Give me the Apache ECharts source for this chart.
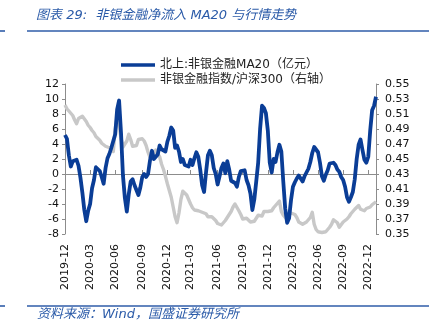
<!DOCTYPE html>
<html>
<head>
<meta charset="utf-8">
<script src="https://cdn.jsdelivr.net/npm/echarts@6/dist/echarts.min.js"></script>
<style>
html,body{margin:0;padding:0;background:#fff;}
#c{width:437px;height:334px;}
</style>
</head>
<body>
<div id="c"></div>
<script>
// ---- data ----
const startDate = '2019-12-02';   // weekly observations
const weekCount = 162;
const tickLabels = ['2019-12','2020-03','2020-06','2020-09','2020-12','2021-03','2021-06','2021-09','2021-12','2022-03','2022-06','2022-09','2022-12'];
const rightTicks = [0.35,0.37,0.39,0.41,0.43,0.45,0.47,0.49,0.51,0.53,0.55];
const seriesNames = ['北上:非银金融MA20（亿元）','非银金融指数/沪深300（右轴）'];

const northboundMA20 = [
5.2,4.7,2.5,1.0,1.7,1.5,1.9,1.1,-0.5,-2.5,
-4.8,-6.3,-4.9,-4.0,-1.9,-0.8,0.9,1.1,0.4,-0.4,
-1.3,0.8,2.1,2.7,3.5,3.3,5.3,8.6,9.8,5.5,
-0.2,-3.2,-5.0,-2.7,-1.0,-0.7,-1.5,-1.6,-2.8,-1.8,
-0.4,0.0,-0.4,0.0,1.8,3.1,2.0,2.0,2.6,3.8,
3.3,3.3,3.0,4.3,5.1,6.2,5.8,3.5,3.8,3.0,
1.6,2.0,1.2,1.2,1.0,1.9,1.2,2.1,2.9,2.3,
0.6,-1.5,-2.4,0.2,2.5,3.1,2.5,0.8,0.0,-1.4,
-0.3,0.8,1.4,0.1,1.7,0.6,-0.9,-0.8,-1.2,-1.7,
-0.4,0.4,0.6,0.5,-0.8,-1.5,-2.6,-4.8,-3.4,-1.0,
1.5,6.0,9.1,8.8,8.1,5.8,1.5,0.2,2.0,1.6,
2.9,3.9,3.0,-1.0,-4.6,-6.5,-5.9,-3.5,-1.7,-1.1,
-0.6,-0.2,-0.6,-1.0,-0.3,0.2,0.7,1.6,2.8,3.6,
3.6,2.9,1.5,-0.3,-0.9,-0.1,0.5,1.4,1.5,1.5,
1.2,0.6,0.3,-0.4,-0.8,-1.7,-3.1,-3.7,-3.1,-2.4,
-0.7,2.0,3.9,4.6,3.2,1.9,1.5,2.3,5.8,8.5,
9.1,10.3
];

const relativeIndex = [
0.522,0.517,0.514,0.512,0.508,0.502,0.497,0.504,0.505,0.507,
0.505,0.500,0.495,0.492,0.488,0.485,0.480,0.478,0.475,0.471,
0.470,0.467,0.467,0.465,0.465,0.460,0.490,0.507,0.495,0.478,
0.466,0.470,0.474,0.483,0.476,0.467,0.465,0.468,0.476,0.474,
0.477,0.474,0.468,0.459,0.452,0.451,0.456,0.462,0.464,0.453,
0.443,0.436,0.427,0.417,0.408,0.399,0.386,0.373,0.365,0.378,
0.396,0.407,0.408,0.402,0.396,0.390,0.385,0.382,0.381,0.381,
0.379,0.379,0.377,0.377,0.373,0.375,0.373,0.371,0.368,0.364,
0.362,0.362,0.364,0.368,0.372,0.376,0.380,0.386,0.390,0.388,
0.381,0.376,0.370,0.369,0.371,0.370,0.366,0.364,0.367,0.371,
0.375,0.375,0.374,0.380,0.381,0.380,0.382,0.381,0.385,0.386,
0.391,0.394,0.380,0.375,0.373,0.369,0.375,0.378,0.378,0.376,
0.372,0.366,0.366,0.363,0.365,0.366,0.366,0.372,0.379,0.363,
0.356,0.353,0.351,0.352,0.352,0.353,0.356,0.359,0.363,0.369,
0.370,0.365,0.359,0.361,0.366,0.368,0.370,0.373,0.377,0.379,
0.383,0.384,0.388,0.383,0.382,0.381,0.384,0.384,0.386,0.389,
0.391,0.393
];

// weekly date categories
const dates = [];
{
  const t0 = Date.parse(startDate + 'T00:00:00Z');
  for (let i = 0; i < weekCount; i++) {
    dates.push(new Date(t0 + i * 7 * 86400000).toISOString().slice(0, 10));
  }
}
const isQuarterTick = dates.map((d, i) => {
  const m = d.slice(0, 7);
  return tickLabels.includes(m) && (i === 0 || dates[i - 1].slice(0, 7) !== m);
});

const BLUE = '#0a3d96';
const GRAY = '#c8c8c8';
const AXIS = '#8c8c8c';
const RULE = '#2f5ca8';
const axisFont = 'DejaVu Sans';

const chart = echarts.init(document.getElementById('c'), null, {renderer: 'canvas'});
chart.setOption({
  animation: false,
  backgroundColor: '#fff',
  grid: {left: 65, right: 61, top: 84, bottom: 100, containLabel: false},
  legend: {
    data: [
      {name: seriesNames[0], icon: 'rect', itemStyle: {color: BLUE}},
      {name: seriesNames[1], icon: 'rect', itemStyle: {color: GRAY}}
    ],
    orient: 'vertical',
    left: 121,
    top: 59,
    padding: 0,
    itemWidth: 34,
    itemHeight: 3.5,
    itemGap: 3,
    textStyle: {fontSize: 12, color: '#222', fontFamily: 'DejaVu Sans, Noto Sans CJK SC'}
  },
  xAxis: [
    {
      type: 'category',
      data: dates,
      boundaryGap: false,
      position: 'bottom',
      axisLine: {show: true, onZero: true, onZeroAxisIndex: 0, lineStyle: {color: AXIS, width: 1}},
      axisTick: {show: true, inside: true, length: 4, interval: (i) => isQuarterTick[i], lineStyle: {color: AXIS}},
      axisLabel: {show: false},
      splitLine: {show: false}
    },
    {
      type: 'category',
      data: dates,
      boundaryGap: false,
      position: 'bottom',
      axisLine: {show: false, onZero: false},
      axisTick: {show: false},
      axisLabel: {
        show: true,
        rotate: 90,
        margin: 10,
        interval: (i) => isQuarterTick[i],
        formatter: (v) => v.slice(0, 7),
        fontSize: 11,
        fontFamily: axisFont,
        color: '#111'
      },
      splitLine: {show: false}
    }
  ],
  yAxis: [
    {
      type: 'value',
      min: -8, max: 12, interval: 2,
      axisLine: {show: true, lineStyle: {color: AXIS}},
      axisTick: {show: true, length: 3, lineStyle: {color: AXIS}},
      axisLabel: {fontSize: 11, fontFamily: axisFont, color: '#111', margin: 6},
      splitLine: {show: false}
    },
    {
      type: 'value',
      min: 0.35, max: 0.55,
      position: 'right',
      axisLine: {show: true, lineStyle: {color: AXIS}},
      axisTick: {show: true, length: 3, customValues: rightTicks, lineStyle: {color: AXIS}},
      axisLabel: {fontSize: 11, fontFamily: axisFont, color: '#111', margin: 9,
        customValues: rightTicks, formatter: (v) => v.toFixed(2)},
      splitLine: {show: false}
    }
  ],
  series: [
    {
      name: seriesNames[0],
      type: 'line',
      xAxisIndex: 0, yAxisIndex: 0,
      data: northboundMA20,
      showSymbol: false, symbol: 'none',
      lineStyle: {color: BLUE, width: 3.8, join: 'round'},
      itemStyle: {color: BLUE},
      z: 4
    },
    {
      name: seriesNames[1],
      type: 'line',
      xAxisIndex: 0, yAxisIndex: 1,
      data: relativeIndex,
      showSymbol: false, symbol: 'none',
      lineStyle: {color: GRAY, width: 3.4, join: 'round'},
      itemStyle: {color: GRAY},
      z: 3
    }
  ],
  graphic: [
    {type: 'text', left: 36, top: 9, style: {text: '图表 29:  非银金融净流入 MA20 与行情走势',
      fill: '#2a5aa8', font: 'italic 13px "DejaVu Sans", "Noto Sans CJK SC"'}},
    {type: 'line', shape: {x1: 0, y1: 31, x2: 5, y2: 31}, style: {stroke: RULE, lineWidth: 1.6}},
    {type: 'line', shape: {x1: 27, y1: 31, x2: 429, y2: 31}, style: {stroke: RULE, lineWidth: 1.6}},
    {type: 'line', shape: {x1: 0, y1: 306, x2: 5, y2: 306}, style: {stroke: RULE, lineWidth: 1.6}},
    {type: 'line', shape: {x1: 27, y1: 306, x2: 429, y2: 306}, style: {stroke: RULE, lineWidth: 1.6}},
    {type: 'text', left: 37, top: 308, style: {text: '资料来源：Wind，国盛证券研究所',
      fill: '#2a5aa8', font: 'italic 13px "DejaVu Sans", "Noto Sans CJK SC"'}}
  ]
});
</script>
</body>
</html>
